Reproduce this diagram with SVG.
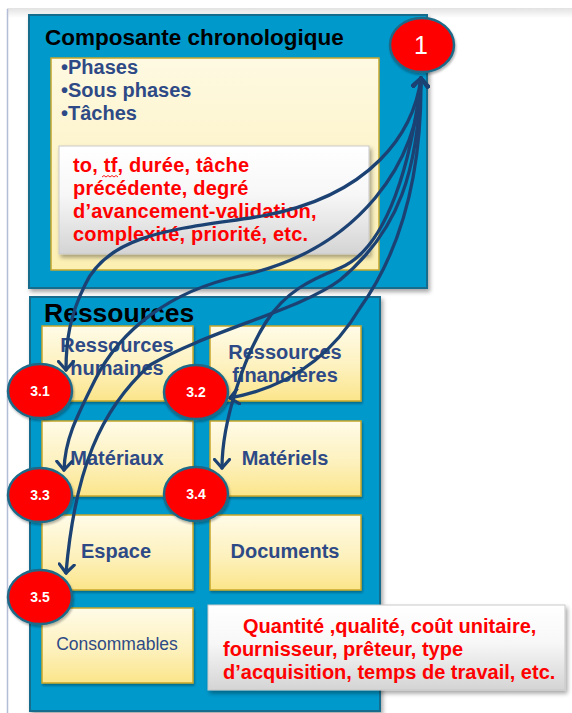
<svg xmlns="http://www.w3.org/2000/svg" width="572" height="713" viewBox="0 0 572 713">
<defs>
<style>
.blue{fill:#0099cc;stroke:#136c8c;stroke-width:2}
.yel{stroke:#c8a62a;stroke-width:1.5}
.wbox{fill:url(#gW);stroke:#c9c9c9;stroke-width:1}
.bul{font-family:"Liberation Sans",Arial,sans-serif;font-weight:bold;font-size:20px;fill:#2e4a86}
.red{font-family:"Liberation Sans",Arial,sans-serif;font-weight:bold;font-size:20px;fill:#ff0000}
.lab{font-family:"Liberation Sans",Arial,sans-serif;font-weight:bold;font-size:20px;fill:#2e4a86;text-anchor:middle}
.ttl{font-family:"Liberation Sans",Arial,sans-serif;font-weight:bold;fill:#000}
.badge{fill:#ff0000;stroke:#1d6a88;stroke-width:2.5}
.bt{font-family:"Liberation Sans",Arial,sans-serif;font-weight:bold;font-size:14px;fill:#fff;text-anchor:middle}
.conn{fill:none;stroke:#1c4274;stroke-width:3.3;stroke-linecap:round}
</style>
<linearGradient id="gTop" x1="0" y1="0" x2="0" y2="1"><stop offset="0" stop-color="#e2e2e2"/><stop offset="1" stop-color="#ffffff"/></linearGradient>
<linearGradient id="gY1" x1="0" y1="0" x2="0" y2="1"><stop offset="0" stop-color="#fef9e2"/><stop offset="1" stop-color="#fcefb2"/></linearGradient>
<linearGradient id="gY2" x1="0" y1="0" x2="0" y2="1"><stop offset="0" stop-color="#fffbe8"/><stop offset="0.55" stop-color="#fdf1bd"/><stop offset="1" stop-color="#fbe58a"/></linearGradient>
<linearGradient id="gW" x1="0" y1="0" x2="0" y2="1"><stop offset="0" stop-color="#ffffff"/><stop offset="0.45" stop-color="#f7f7f7"/><stop offset="1" stop-color="#d4d4d4"/></linearGradient>
<filter id="sh" x="-10%" y="-10%" width="125%" height="130%"><feDropShadow dx="2" dy="3" stdDeviation="2" flood-color="#000" flood-opacity="0.35"/></filter>
<filter id="shs" x="-10%" y="-10%" width="125%" height="130%"><feDropShadow dx="1" dy="2" stdDeviation="1.2" flood-color="#000" flood-opacity="0.3"/></filter>
<marker id="ah" viewBox="0 0 12 18" refX="10" refY="9" markerWidth="12" markerHeight="18" markerUnits="userSpaceOnUse" orient="auto-start-reverse">
<path d="M1.5,1.5 L10,9 L1.5,16.5" fill="none" stroke="#1c4274" stroke-width="3.2" stroke-linecap="round" stroke-linejoin="round"/>
</marker>
</defs>

<rect x="0" y="0" width="572" height="713" fill="#ffffff"/>
<rect x="7" y="8" width="565" height="10" fill="url(#gTop)"/>
<line x1="7.5" y1="9" x2="7.5" y2="713" stroke="#b4bdd6" stroke-width="1.5"/>

<g id="chrono">
<rect class="blue" x="29" y="15" width="398" height="273" filter="url(#sh)"/>
<text class="ttl" x="45" y="45" font-size="22.5">Composante chronologique</text>
<rect class="yel" x="51" y="58" width="328" height="212" fill="url(#gY1)"/>
<text class="bul" x="61" y="74">•Phases</text>
<text class="bul" x="61" y="97">•Sous phases</text>
<text class="bul" x="61" y="120">•Tâches</text>
<rect class="wbox" x="59" y="146" width="310" height="108" filter="url(#sh)"/>
<text class="red" x="73" y="172" letter-spacing="0.2">to, tf, durée, tâche</text>
<path d="M102,177 l2,-1.5 l2,1.5 l2,-1.5 l2,1.5 l2,-1.5 l2,1.5 l2,-1.5 l2,1.5" fill="none" stroke="#ff0000" stroke-width="0.9"/>
<text class="red" x="73" y="195" letter-spacing="0.2">précédente, degré</text>
<text class="red" x="73" y="218" letter-spacing="0.2">d’avancement-validation,</text>
<text class="red" x="73" y="241" letter-spacing="0.2">complexité, priorité, etc.</text>
</g>

<g id="ressources">
<rect class="blue" x="30" y="297" width="350" height="414" filter="url(#sh)"/>
<text class="ttl" x="44" y="322" font-size="26.5">Ressources</text>
</g>

<g id="r-humaines">
<rect class="yel" x="42" y="326" width="151" height="75" fill="url(#gY2)" filter="url(#shs)"/>
<text class="lab" x="117" y="352">Ressources</text>
<text class="lab" x="117" y="375">humaines</text>
</g>
<g id="r-financieres">
<rect class="yel" x="210" y="326" width="151" height="75" fill="url(#gY2)" filter="url(#shs)"/>
<text class="lab" x="285" y="359">Ressources</text>
<text class="lab" x="285" y="382">financières</text>
</g>
<g id="r-materiaux">
<rect class="yel" x="42" y="421" width="151" height="75" fill="url(#gY2)" filter="url(#shs)"/>
<text class="lab" x="117" y="465">Matériaux</text>
</g>
<g id="r-materiels">
<rect class="yel" x="210" y="421" width="151" height="75" fill="url(#gY2)" filter="url(#shs)"/>
<text class="lab" x="285" y="465">Matériels</text>
</g>
<g id="r-espace">
<rect class="yel" x="42" y="515" width="151" height="75" fill="url(#gY2)" filter="url(#shs)"/>
<text class="lab" x="116" y="558">Espace</text>
</g>
<g id="r-documents">
<rect class="yel" x="210" y="515" width="151" height="75" fill="url(#gY2)" filter="url(#shs)"/>
<text class="lab" x="285" y="558">Documents</text>
</g>
<g id="r-consommables">
<rect class="yel" x="42" y="608" width="151" height="75" fill="url(#gY2)" filter="url(#shs)"/>
<text x="117" y="650" font-family="'Liberation Sans',Arial,sans-serif" font-size="17.5" fill="#2e4a86" text-anchor="middle">Consommables</text>
</g>

<g id="attributs">
<rect class="wbox" x="208" y="605" width="357" height="85" filter="url(#sh)"/>
<text class="red" x="243" y="633">Quantité ,qualité, coût unitaire,</text>
<text class="red" x="223" y="656">fournisseur, prêteur, type</text>
<text class="red" x="223" y="679">d’acquisition, temps de travail, etc.</text>
</g>

<g id="connectors">
<path class="conn" marker-start="url(#ah)" marker-end="url(#ah)" d="M421,78 C414,132 372,196 262,216 C190,228 110,230 85,285 C70,315 66,340 66,370"/>
<path class="conn" marker-start="url(#ah)" marker-end="url(#ah)" d="M421,78 C420,160 360,250 240,276 C170,291 120,330 95,380 C75,420 65,440 64,470"/>
<path class="conn" marker-start="url(#ah)" marker-end="url(#ah)" d="M421,78 C418,170 400,230 340,280 C300,310 210,330 150,365 C100,410 75,470 66,573"/>
<path class="conn" marker-start="url(#ah)" marker-end="url(#ah)" d="M421,78 C412,160 388,248 340,268 C310,280 285,292 266,322 C245,355 222,420 222,468"/>
<path class="conn" marker-start="url(#ah)" marker-end="url(#ah)" d="M421,78 C422,180 398,255 360,308 C338,345 300,385 230,398"/>
</g>

<g id="b1"><ellipse class="badge" cx="422" cy="45" rx="32" ry="27" filter="url(#shs)"/><text x="421" y="54" font-family="'Liberation Sans',Arial,sans-serif" font-size="25" fill="#fff" text-anchor="middle">1</text></g>
<g id="b31"><ellipse class="badge" cx="40" cy="391" rx="32" ry="27" filter="url(#shs)"/><text class="bt" x="40" y="396">3.1</text></g>
<g id="b32"><ellipse class="badge" cx="196" cy="392" rx="32" ry="27" filter="url(#shs)"/><text class="bt" x="196" y="397">3.2</text></g>
<g id="b33"><ellipse class="badge" cx="40" cy="495" rx="32" ry="27" filter="url(#shs)"/><text class="bt" x="40" y="500">3.3</text></g>
<g id="b34"><ellipse class="badge" cx="196" cy="494" rx="32" ry="27" filter="url(#shs)"/><text class="bt" x="196" y="499">3.4</text></g>
<g id="b35"><ellipse class="badge" cx="40" cy="597" rx="32" ry="27" filter="url(#shs)"/><text class="bt" x="40" y="602">3.5</text></g>
</svg>
